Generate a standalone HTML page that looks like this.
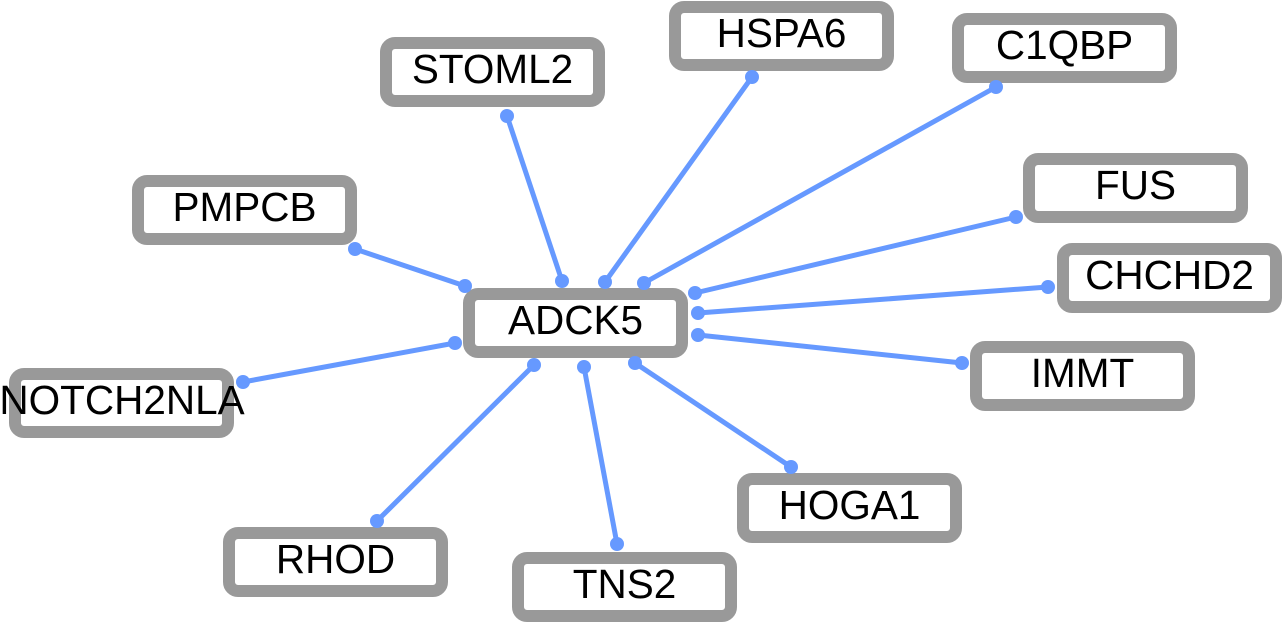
<!DOCTYPE html>
<html>
<head>
<meta charset="utf-8">
<style>
  html, body { margin: 0; padding: 0; background: #ffffff; }
  body { width: 1283px; height: 624px; overflow: hidden; }
  svg { display: block; }
  text { font-family: "Liberation Sans", Arial, sans-serif; font-size: 40.5px; fill: #000; text-anchor: middle; }
</style>
</head>
<body>
<svg width="1283" height="624" viewBox="0 0 1283 624" xmlns="http://www.w3.org/2000/svg">
  <g fill="#ffffff" stroke="#999999" stroke-width="12">
    <rect x="469" y="294" width="213" height="58" rx="9"/>
    <rect x="386" y="43" width="213" height="58" rx="9"/>
    <rect x="675" y="7" width="213" height="58" rx="9"/>
    <rect x="958" y="19" width="213" height="58" rx="9"/>
    <rect x="1029" y="159" width="213" height="58" rx="9"/>
    <rect x="1063" y="249" width="213" height="58" rx="9"/>
    <rect x="976" y="347" width="213" height="58" rx="9"/>
    <rect x="138" y="181" width="213" height="58" rx="9"/>
    <rect x="15" y="374" width="213" height="58" rx="9"/>
    <rect x="229" y="533" width="213" height="58" rx="9"/>
    <rect x="518" y="558" width="213" height="58" rx="9"/>
    <rect x="743" y="479" width="213" height="58" rx="9"/>
  </g>
  <g stroke="#6699ff" stroke-width="5" stroke-linecap="round">
    <line x1="465" y1="286" x2="355" y2="249"/>
    <line x1="562" y1="281" x2="507" y2="116"/>
    <line x1="605" y1="282" x2="752" y2="77"/>
    <line x1="644" y1="283" x2="996" y2="87"/>
    <line x1="695" y1="293" x2="1016" y2="217"/>
    <line x1="698" y1="313" x2="1048" y2="287"/>
    <line x1="698" y1="335" x2="962" y2="363"/>
    <line x1="635" y1="363" x2="791" y2="467"/>
    <line x1="584" y1="367" x2="617" y2="544"/>
    <line x1="534" y1="365" x2="377" y2="521"/>
    <line x1="455" y1="343" x2="243" y2="382"/>
  </g>
  <g fill="#6699ff">
    <circle cx="465" cy="286" r="7"/><circle cx="355" cy="249" r="7"/>
    <circle cx="562" cy="281" r="7"/><circle cx="507" cy="116" r="7"/>
    <circle cx="605" cy="282" r="7"/><circle cx="752" cy="77" r="7"/>
    <circle cx="644" cy="283" r="7"/><circle cx="996" cy="87" r="7"/>
    <circle cx="695" cy="293" r="7"/><circle cx="1016" cy="217" r="7"/>
    <circle cx="698" cy="313" r="7"/><circle cx="1048" cy="287" r="7"/>
    <circle cx="698" cy="335" r="7"/><circle cx="962" cy="363" r="7"/>
    <circle cx="635" cy="363" r="7"/><circle cx="791" cy="467" r="7"/>
    <circle cx="584" cy="367" r="7"/><circle cx="617" cy="544" r="7"/>
    <circle cx="534" cy="365" r="7"/><circle cx="377" cy="521" r="7"/>
    <circle cx="455" cy="343" r="7"/><circle cx="243" cy="382" r="7"/>
  </g>
  <text x="575.5" y="334">ADCK5</text>
  <text x="492.5" y="83">STOML2</text>
  <text x="781.5" y="47">HSPA6</text>
  <text x="1064.5" y="59">C1QBP</text>
  <text x="1135.5" y="199">FUS</text>
  <text x="1169.5" y="289">CHCHD2</text>
  <text x="1082.5" y="387">IMMT</text>
  <text x="244.5" y="221">PMPCB</text>
  <text x="122" y="414">NOTCH2NLA</text>
  <text x="335.5" y="573">RHOD</text>
  <text x="624.5" y="598">TNS2</text>
  <text x="849.5" y="519">HOGA1</text>
</svg>
</body>
</html>
